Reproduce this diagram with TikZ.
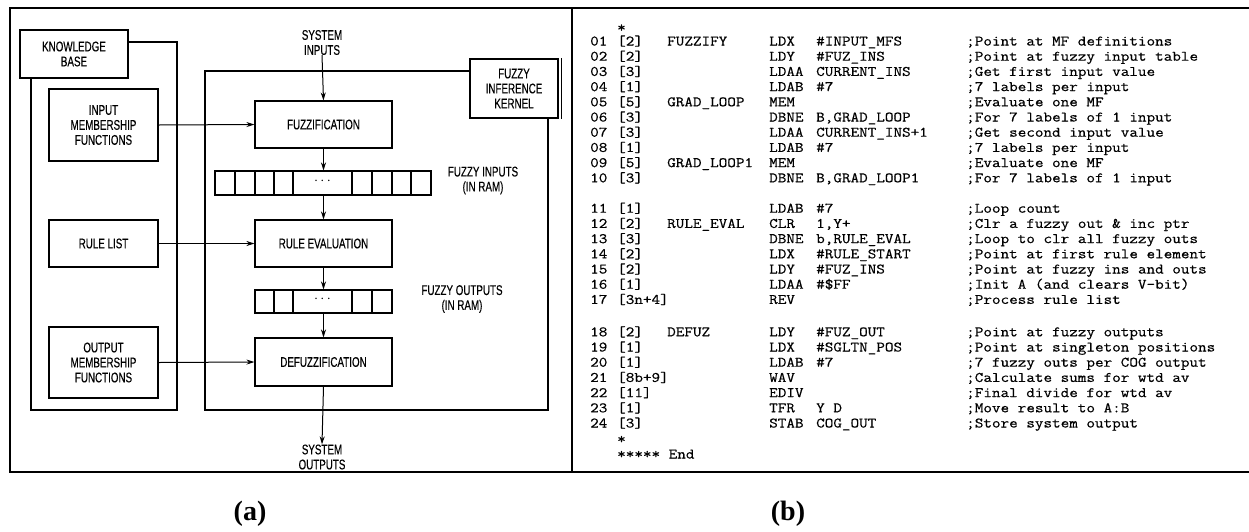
\documentclass[tikz,border=0pt]{standalone}
\usepackage{fontspec}
\setmainfont{Liberation Serif}
\newfontfamily\condsans[FakeStretch=0.7,FakeBold=0.3]{Liberation Sans}
\newfontfamily\codefont[FakeStretch=1.15,FakeBold=0.5]{Latin Modern Mono}
\usetikzlibrary{arrows.meta}
\newcommand\myrow[8]{%
  \node[code] (num#2) at (590,#1) {#3};
  \node[code] (br#2)  at (617,#1) {#4};
  \node[code] (lab#2) at (667,#1) {#5};
  \node[code] (mn#2)  at (769,#1) {#6};
  \node[code] (op#2)  at (816,#1) {#7};
  \node[code] (cm#2)  at (966,#1) {#8};
}
\begin{document}
\begin{tikzpicture}[x=1pt,y=-1pt,
  box/.style={draw, line width=1.1pt, inner sep=0pt, align=center,
    font=\condsans\fontsize{14}{15}\selectfont},
  lbl/.style={inner sep=0pt, align=center, font=\condsans\fontsize{14}{15}\selectfont},
  frameline/.style={line width=2.4pt},
  inframe/.style={line width=1.8pt},
  arr/.style={-{Stealth[length=8pt,width=5pt]}, line width=1pt},
  code/.style={anchor=base west, inner sep=0pt, font=\codefont\fontsize{14.5}{15}\selectfont},
  captxt/.style={inner sep=0pt, font=\bfseries\fontsize{28}{32}\selectfont}]
\useasboundingbox (0,0) rectangle (1249,531);
% outer frame
\draw[frameline] (1249,8) -- (10,8) -- (10,472) -- (1249,472);
\draw[frameline] (572,8) -- (572,472);
% ---------- panel (a)
\node[box, minimum width=108, minimum height=48] (kb) at (74,54) {KNOWLEDGE\\BASE};
\node[box, minimum width=109, minimum height=72] (imf) at (103.5,125) {INPUT\\MEMBERSHIP\\FUNCTIONS};
\node[box, minimum width=109, minimum height=47] (rl) at (103.5,243.5) {RULE LIST};
\node[box, minimum width=109, minimum height=71] (omf) at (103.5,362.5) {OUTPUT\\MEMBERSHIP\\FUNCTIONS};
\coordinate (kbA) at (177,42);
\coordinate (kbB) at (177,410);
\coordinate (kbC) at (31,410);
\draw[inframe] (kb.east |- kbA) -- (kbA) -- (kbB) -- (kbC) -- (kbC |- kb.south);
% kernel
\node[box, minimum width=88, minimum height=59] (fik) at (514,88.5) {FUZZY\\INFERENCE\\KERNEL};
\draw[line width=0.6pt] ([xshift=2.5pt]fik.north east) -- ([xshift=2.5pt]fik.south east);
\coordinate (kA) at (205,71);
\coordinate (kB) at (205,410);
\coordinate (kC) at (548,410);
\draw[inframe] (fik.west |- kA) -- (kA) -- (kB) -- (kC) -- (kC |- fik.south);
% processing boxes
\node[box, minimum width=137, minimum height=47] (fuz) at (323.5,124.5) {FUZZIFICATION};
\node[box, minimum width=137, minimum height=47] (rev) at (323.5,243.5) {RULE EVALUATION};
\node[box, minimum width=137, minimum height=48] (dfz) at (323.5,362) {DEFUZZIFICATION};
% registers
\node[draw, line width=1.1pt, inner sep=0pt, minimum width=216, minimum height=24] (rin) at (323,183) {};
\foreach \xx in {235,255,274,293,352,372,392,411}
  \draw[line width=1.1pt] (\xx,171) -- (\xx,195);
\node[lbl] (din) at (322.5,181) {$\cdots$};
\node[draw, line width=1.1pt, inner sep=0pt, minimum width=137, minimum height=23] (rout) at (323.5,301.5) {};
\foreach \xx in {274,293,352,372}
  \draw[line width=1.1pt] (\xx,290) -- (\xx,313);
\node[lbl] (dout) at (322.5,299.5) {$\cdots$};
% labels
\node[lbl] (sin) at (322,42.5) {SYSTEM\\INPUTS};
\node[lbl] (sout) at (322,457) {SYSTEM\\OUTPUTS};
\node[lbl] (fin) at (483,180.5) {FUZZY INPUTS\\(IN RAM)};
\node[lbl] (fout) at (462,299) {FUZZY OUTPUTS\\(IN RAM)};
% arrows
\draw[arr] (sin.south) -- (fuz.north);
\draw[arr] (fuz.south) -- (fuz.south |- rin.north);
\draw[arr] (fuz.south |- rin.south) -- (rev.north);
\draw[arr] (rev.south) -- (rev.south |- rout.north);
\draw[arr] (rev.south |- rout.south) -- (dfz.north);
\draw[arr] (dfz.south) -- (sout.north);
\draw[arr] (imf.east) -- (fuz.west);
\draw[arr] (rl.east) -- (rev.west);
\draw[arr] (omf.east) -- (dfz.west);
\node[captxt] (capa) at (250,514) {(a)};
% ---------- panel (b)
\node[code] (star1) at (617,32) {*};
\myrow{45.5}{01}{01}{[2]}{FUZZIFY}{LDX}{\#INPUT\_MFS}{;Point at MF definitions}
\myrow{60.7}{02}{02}{[2]}{}{LDY}{\#FUZ\_INS}{;Point at fuzzy input table}
\myrow{75.9}{03}{03}{[3]}{}{LDAA}{CURRENT\_INS}{;Get first input value}
\myrow{91.1}{04}{04}{[1]}{}{LDAB}{\#7}{;7 labels per input}
\myrow{106.3}{05}{05}{[5]}{GRAD\_LOOP}{MEM}{}{;Evaluate one MF}
\myrow{121.5}{06}{06}{[3]}{}{DBNE}{B,GRAD\_LOOP}{;For 7 labels of 1 input}
\myrow{136.7}{07}{07}{[3]}{}{LDAA}{CURRENT\_INS+1}{;Get second input value}
\myrow{151.9}{08}{08}{[1]}{}{LDAB}{\#7}{;7 labels per input}
\myrow{167.1}{09}{09}{[5]}{GRAD\_LOOP1}{MEM}{}{;Evaluate one MF}
\myrow{182.3}{10}{10}{[3]}{}{DBNE}{B,GRAD\_LOOP1}{;For 7 labels of 1 input}
\myrow{212.7}{11}{11}{[1]}{}{LDAB}{\#7}{;Loop count}
\myrow{227.9}{12}{12}{[2]}{RULE\_EVAL}{CLR}{1,Y+}{;Clr a fuzzy out \& inc ptr}
\myrow{243.1}{13}{13}{[3]}{}{DBNE}{b,RULE\_EVAL}{;Loop to clr all fuzzy outs}
\myrow{258.3}{14}{14}{[2]}{}{LDX}{\#RULE\_START}{;Point at first rule element}
\myrow{273.5}{15}{15}{[2]}{}{LDY}{\#FUZ\_INS}{;Point at fuzzy ins and outs}
\myrow{288.7}{16}{16}{[1]}{}{LDAA}{\#\$FF}{;Init A (and clears V-bit)}
\myrow{303.9}{17}{17}{[3n+4]}{}{REV}{}{;Process rule list}
\myrow{336.3}{18}{18}{[2]}{DEFUZ}{LDY}{\#FUZ\_OUT}{;Point at fuzzy outputs}
\myrow{351.5}{19}{19}{[1]}{}{LDX}{\#SGLTN\_POS}{;Point at singleton positions}
\myrow{366.7}{20}{20}{[1]}{}{LDAB}{\#7}{;7 fuzzy outs per COG output}
\myrow{381.9}{21}{21}{[8b+9]}{}{WAV}{}{;Calculate sums for wtd av}
\myrow{397.1}{22}{22}{[11]}{}{EDIV}{}{;Final divide for wtd av}
\myrow{412.3}{23}{23}{[1]}{}{TFR}{Y D}{;Move result to A:B}
\myrow{427.5}{24}{24}{[3]}{}{STAB}{COG\_OUT}{;Store system output}
\node[code] (star2) at (617,443.5) {*};
\node[code] (endl) at (617,458.5) {***** End};
\node[captxt] (capb) at (788,514) {(b)};
\end{tikzpicture}
\end{document}
